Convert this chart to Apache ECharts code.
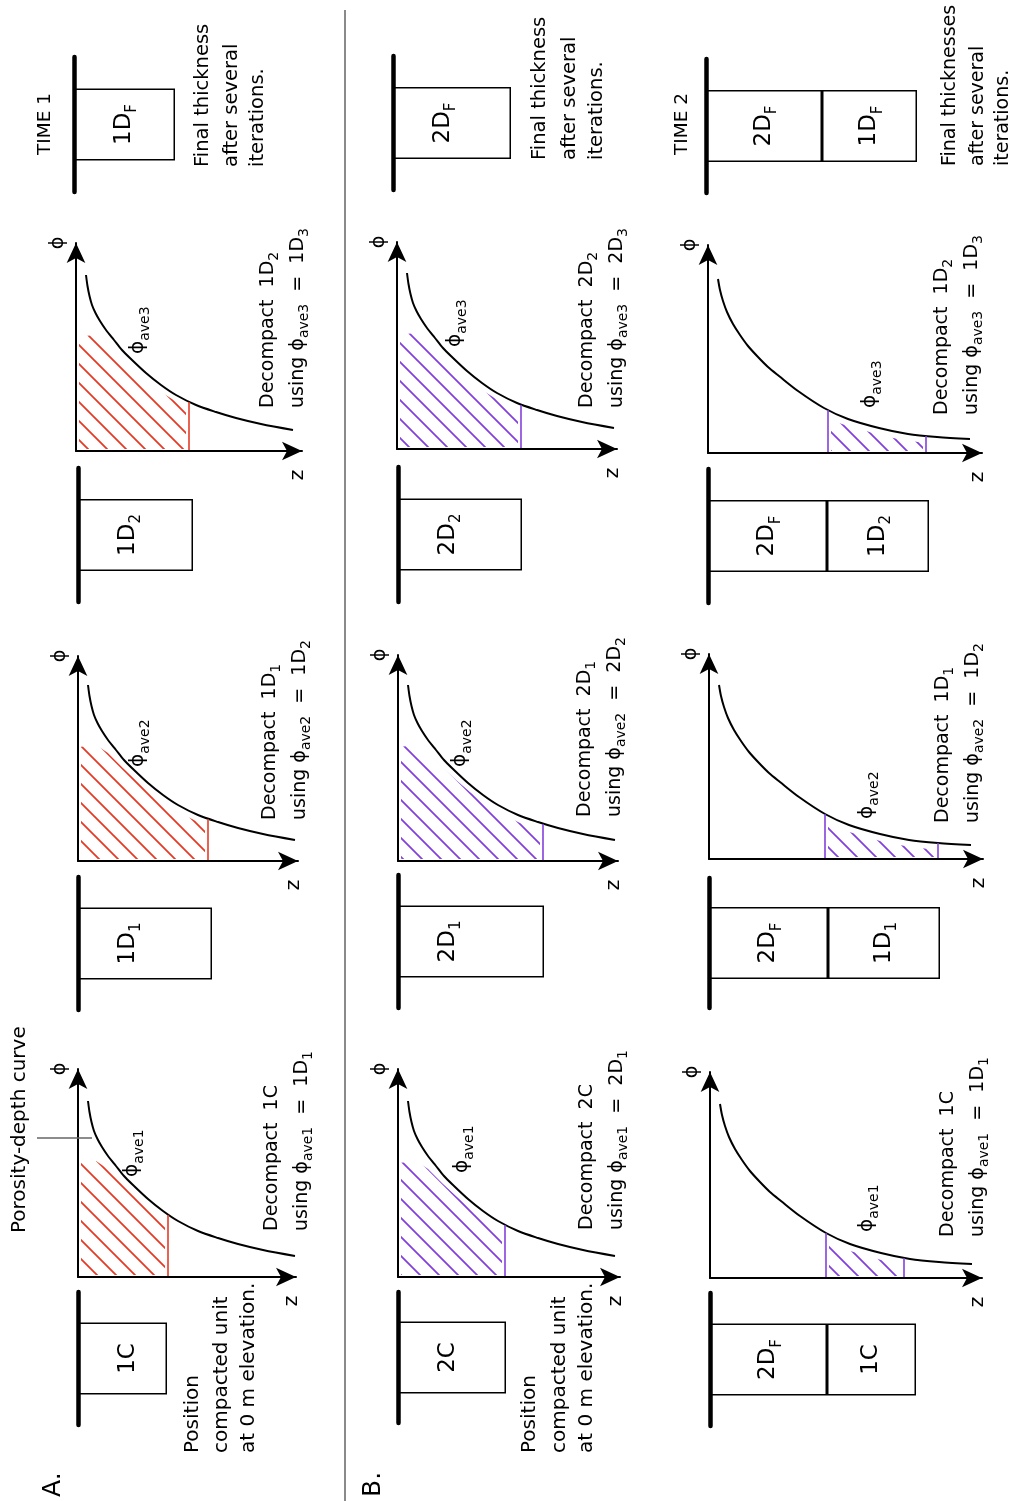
<!DOCTYPE html>
<html><head><meta charset="utf-8">
<script src="https://cdn.jsdelivr.net/npm/echarts@6/dist/echarts.min.js"></script>
<style>html,body{margin:0;padding:0;background:#fff}#c{width:1020px;height:1501px}</style>
</head><body><div id="c"></div>
<script>
// ---------- DATA (px-scaled units) ----------
// Porosity-depth curve, rows A and B (z offset, phi)
const curveZ   = [10, 11.5, 13.5, 16, 19.5, 24, 30, 38, 46, 55, 70, 85, 100, 120, 140, 160, 185, 217];
const curvePhi = [176, 165, 155, 146, 138, 130, 121, 111, 101, 92, 78, 66, 56, 46, 39, 33, 27, 21];
// Porosity-depth curve, bottom row (time 2, buried under 2DF)
const deepZ   = [10, 12, 15, 19, 25, 32, 40, 50, 60, 71, 90, 116, 140, 171, 200, 229, 262];
const deepPhi = [174, 163, 152, 141, 129, 118, 107, 96, 86, 77, 62, 45, 34, 25, 19, 16, 14];

// Upper rim of the hatching (it stops a little below the curve)
const rimZ   = [0, 18, 30, 45, 58, 72, 88, 104, 122, 145, 170];
const rimPhi = [114, 116, 108, 93, 81, 69, 57, 47, 38, 30, 24];
const rimDeepZ   = [100, 110, 125, 140, 155, 171, 190, 210, 232];
const rimDeepPhi = [43, 38, 32, 27, 23, 18, 14, 11, 9];

// Hatched (decompacted) intervals
const hatchEndZA   = [90, 130, 113];
const hatchEndPhiA = [62, 42, 49];
const hatchEndZB   = [107, 145, 124];
const hatchEndPhiB = [52, 37, 44];
const hatchStartZC   = [116, 116, 120];
const hatchStartPhiC = [45, 45, 43];
const hatchEndZC     = [194, 229, 218];
const hatchEndPhiC   = [20, 16, 17];

// Unit boxes: labels and thicknesses (cols: step1, step2, step3, final)
const unitsA = ['1C', '1D{s|1}', '1D{s|2}', '1D{s|F}'];
const thickA = [89, 134, 115, 101];
const unitsB = ['2C', '2D{s|1}', '2D{s|2}', '2D{s|F}'];
const thickB = [108, 146, 124, 118];
const lowerUnitC  = '2D{s|F}';
const lowerThickC = [117, 119, 119, 116];
const upperUnitsC = ['1C', '1D{s|1}', '1D{s|2}', '1D{s|F}'];
const upperThickC = [89, 112, 102, 95];

// Text labels
const aveNames = ['ave1', 'ave2', 'ave3'];
const decompA = ['1C', '1D{s|1}', '1D{s|2}'];
const resultA = ['1D{s|1}', '1D{s|2}', '1D{s|3}'];
const decompB = ['2C', '2D{s|1}', '2D{s|2}'];
const resultB = ['2D{s|1}', '2D{s|2}', '2D{s|3}'];
const decompC = ['1C', '1D{s|1}', '1D{s|2}'];
const resultC = ['1D{s|1}', '1D{s|2}', '1D{s|3}'];

// ---------- LAYOUT ----------
const FONT = '"DejaVu Sans", sans-serif';
const RED = '#e53b26', PURPLE = '#8440dd';
const plotLayout = {
  A: [{ox:78,oy:1277,w:218,h:208},{ox:78,oy:861,w:220,h:205},{ox:76,oy:451,w:226,h:208}],
  B: [{ox:398,oy:1277,w:222,h:208},{ox:398,oy:861,w:220,h:206},{ox:397,oy:449,w:220,h:207}],
  C: [{ox:710,oy:1278,w:272,h:206},{ox:709,oy:859,w:274,h:205},{ox:708,oy:453,w:274,h:208}]
};
const phiAveOff = {A:[[54,-100],[60,-94],[62,-97]], B:[[64,-104],[62,-94],[58,-102]], C:[[157,-46],[158,-40],[162,-45]]};
const decompOff = {A:[[194,-46],[192,-41],[192,-43]], B:[[189,-47],[187,-44],[190,-41]], C:[[238,-41],[234,-36],[234,-38]]};
const boxLayout = {
  A: [{left:78,top:1292,h:133},{left:78,top:877,h:133},{left:78,top:468,h:134},{left:74,top:57,h:135}],
  B: [{left:398,top:1292,h:131},{left:398,top:875,h:133},{left:398,top:467,h:135},{left:393,top:56,h:134}],
  C: [{left:710,top:1293,h:133},{left:709,top:878,h:130},{left:708,top:469,h:134},{left:706,top:59,h:134}]
};

function hatchPattern(color) {
  const S = 19, c = document.createElement('canvas');
  c.width = S; c.height = S;
  const ctx = c.getContext('2d');
  ctx.strokeStyle = color; ctx.lineWidth = 1.8;
  ctx.beginPath();
  for (const o of [-S, 0, S]) { ctx.moveTo(o - 3, -3); ctx.lineTo(o + S + 3, S + 3); }
  ctx.stroke();
  return { image: c, repeat: 'repeat' };
}

// keep the part of a screen polyline (sorted by x) between xa and xb
function sliceX(pts, xa, xb) {
  const n = pts.length;
  const yAt = x => {
    if (x <= pts[0][0]) return pts[0][1];
    for (let i = 0; i < n - 1; i++) {
      const p = pts[i], q = pts[i + 1];
      if (x >= p[0] && x <= q[0]) return p[1] + (q[1] - p[1]) * (x - p[0]) / (q[0] - p[0]);
    }
    return pts[n - 1][1];
  };
  const out = [[xa, yAt(xa)]];
  pts.forEach(p => { if (p[0] > xa && p[0] < xb) out.push(p); });
  out.push([xb, yAt(xb)]);
  return out;
}

const RICH = { s: { fontSize: 14, fontFamily: FONT, fill: '#000', verticalAlign: 'bottom', lineHeight: 14 } };
function T(x, y, text, size, extra) {
  return {
    type: 'text', x: x, y: y, rotation: Math.PI / 2, silent: true, z: 100,
    style: Object.assign({
      text: text, fontSize: size, fontFamily: FONT, fill: '#000',
      align: 'left', verticalAlign: 'middle', textAlign: 'left', textVerticalAlign: 'middle',
      lineHeight: size + 8, rich: RICH
    }, extra || {})
  };
}

const option = {
  animation: false, backgroundColor: '#fff',
  grid: [], xAxis: [], yAxis: [], series: [], graphic: { elements: [] }
};
const G = option.graphic.elements;

function axisBase(gi) {
  return {
    gridIndex: gi, type: 'value', min: 0, z: 5,
    splitLine: {show: false}, axisTick: {show: false}, axisLabel: {show: false},
    axisLine: {show: true, onZero: false, symbol: ['none', 'arrow'], symbolSize: [14, 20],
      lineStyle: {color: '#000', width: 2}}
  };
}

function addPlot(row, c) {
  const L = plotLayout[row][c];
  const gi = option.grid.length;
  option.grid.push({left: L.ox, top: L.oy - L.h, width: L.w, height: L.h, outerBoundsMode: 'none'});
  option.xAxis.push(Object.assign(axisBase(gi), {max: L.w}));
  option.yAxis.push(Object.assign(axisBase(gi), {max: L.h}));

  const deep = row === 'C';
  const zs = deep ? deepZ : curveZ, ps = deep ? deepPhi : curvePhi;
  const rz = deep ? rimDeepZ : rimZ, rp = deep ? rimDeepPhi : rimPhi;
  let z0, p0, z1, p1;
  if (deep) { z0 = hatchStartZC[c]; p0 = hatchStartPhiC[c]; z1 = hatchEndZC[c]; p1 = hatchEndPhiC[c]; }
  else if (row === 'A') { z1 = hatchEndZA[c]; p1 = hatchEndPhiA[c]; }
  else { z1 = hatchEndZB[c]; p1 = hatchEndPhiB[c]; }
  const color = row === 'A' ? RED : PURPLE;
  const pattern = hatchPattern(color);
  const ml = [];
  if (deep) ml.push([{coord: [z0, 0]}, {coord: [z0, p0]}]);
  ml.push([{coord: [z1, 0]}, {coord: [z1, p1]}]);
  const zLo = deep ? z0 + 3 : 3, zHi = z1 - 3;

  // hatching
  option.series.push({
    type: 'custom', xAxisIndex: gi, yAxisIndex: gi, data: [[0, 0]], silent: true, z: 3,
    renderItem: function (params, api) {
      const pts = rz.map((z, i) => api.coord([z, rp[i]]));
      const xa = api.coord([zLo, 0])[0], xb = api.coord([zHi, 0])[0];
      const base = api.coord([0, 2])[1];
      const top = sliceX(pts, xa, xb);
      const poly = top.concat([[xb, base], [xa, base]]);
      return {type: 'polygon', shape: {points: poly}, style: {fill: pattern, stroke: null}};
    }
  });
  // porosity-depth curve + interval limits
  option.series.push({
    type: 'line', xAxisIndex: gi, yAxisIndex: gi, data: zs.map((z, i) => [z, ps[i]]),
    symbol: 'none', showSymbol: false, smooth: 0.3, silent: true, z: 4, emphasis: {disabled: true},
    lineStyle: {color: '#000', width: 2},
    markLine: {silent: true, symbol: ['none', 'none'], label: {show: false}, emphasis: {disabled: true},
      lineStyle: {color: color, width: 1.6, type: 'solid'}, data: ml}
  });

  // annotations
  const tipX = L.ox + L.w + 10;
  G.push(T(L.ox - 18, L.oy - L.h, 'ϕ', 19, {align: 'center', textAlign: 'center'}));
  G.push(T(tipX - 14, L.oy + 24, 'z', 20, {align: 'center', textAlign: 'center'}));
  const pa = phiAveOff[row][c];
  G.push(T(L.ox + pa[0], L.oy + pa[1], 'ϕ{s|' + aveNames[c] + '}', 20));
  const d = decompOff[row][c];
  const dec = row === 'A' ? decompA : row === 'B' ? decompB : decompC;
  const res = row === 'A' ? resultA : row === 'B' ? resultB : resultC;
  G.push(T(L.ox + d[0], L.oy + d[1], 'Decompact  ' + dec[c], 19));
  G.push(T(L.ox + d[0] + 30, L.oy + d[1], 'using ϕ{s|' + aveNames[c] + '}  =  ' + res[c], 19));
}

function addBoxes(L, segs, centered) {
  const gi = option.grid.length;
  option.grid.push({left: L.left, top: L.top, width: 400, height: L.h, outerBoundsMode: 'none'});
  option.xAxis.push({gridIndex: gi, type: 'value', min: 0, max: 400, show: false});
  option.yAxis.push({gridIndex: gi, type: 'category', data: ['u'], z: 5,
    axisLine: {show: true, lineStyle: {color: '#000', width: 4.5}},
    axisTick: {show: false}, axisLabel: {show: false}, splitLine: {show: false}});
  segs.forEach(seg => {
    option.series.push({
      type: 'bar', xAxisIndex: gi, yAxisIndex: gi, data: [seg.value], stack: 'st' + gi,
      barWidth: 72, silent: true, z: 2, emphasis: {disabled: true},
      itemStyle: {color: '#fff', borderColor: '#000', borderWidth: 1.5},
      label: {show: true, position: centered ? 'inside' : [50, '50%'], align: 'center', verticalAlign: 'middle',
        rotate: 90, fontSize: 23, fontFamily: FONT, color: '#000', lineHeight: 32,
        formatter: () => seg.label,
        rich: {s: {fontSize: 15, fontFamily: FONT, color: '#000', verticalAlign: 'bottom', lineHeight: 15}}}
    });
  });
}

['A', 'B', 'C'].forEach(r => [0, 1, 2].forEach(c => addPlot(r, c)));
for (let i = 0; i < 4; i++) {
  addBoxes(boxLayout.A[i], [{value: thickA[i], label: unitsA[i]}], false);
  addBoxes(boxLayout.B[i], [{value: thickB[i], label: unitsB[i]}], false);
  addBoxes(boxLayout.C[i], [{value: lowerThickC[i], label: lowerUnitC}, {value: upperThickC[i], label: upperUnitsC[i]}], true);
}

// other texts
G.push(T(20, 1233, 'Porosity-depth curve', 20));
G.push({type: 'line', silent: true, z: 100, shape: {x1: 37, y1: 1138, x2: 92, y2: 1138}, style: {stroke: '#666', lineWidth: 1.5}});
[['Position', 193], ['compacted unit', 222], ['at 0 m elevation.', 249]].forEach(t => G.push(T(t[1], 1453, t[0], 20)));
[['Position', 530], ['compacted unit', 560], ['at 0 m elevation.', 587]].forEach(t => G.push(T(t[1], 1453, t[0], 20)));
G.push(T(45, 155, 'TIME 1', 18.5));
G.push(T(682, 155, 'TIME 2', 18.5));
[['Final thickness', 203], ['after several', 232], ['iterations.', 258]].forEach(t => G.push(T(t[1], 167, t[0], 19.5)));
[['Final thickness', 540], ['after several', 570], ['iterations.', 597]].forEach(t => G.push(T(t[1], 160, t[0], 19.5)));
[['Final thicknesses', 950], ['after several', 978], ['iterations.', 1003]].forEach(t => G.push(T(t[1], 166, t[0], 19)));
G.push(T(53, 1497, 'A.', 25));
G.push(T(373, 1497, 'B.', 25));
G.push({type: 'line', silent: true, z: 100, shape: {x1: 345, y1: 10, x2: 345, y2: 1501}, style: {stroke: '#8a8a8a', lineWidth: 2}});

const chart = echarts.init(document.getElementById('c'), null, {renderer: 'canvas'});
chart.setOption(option);
</script></body></html>
